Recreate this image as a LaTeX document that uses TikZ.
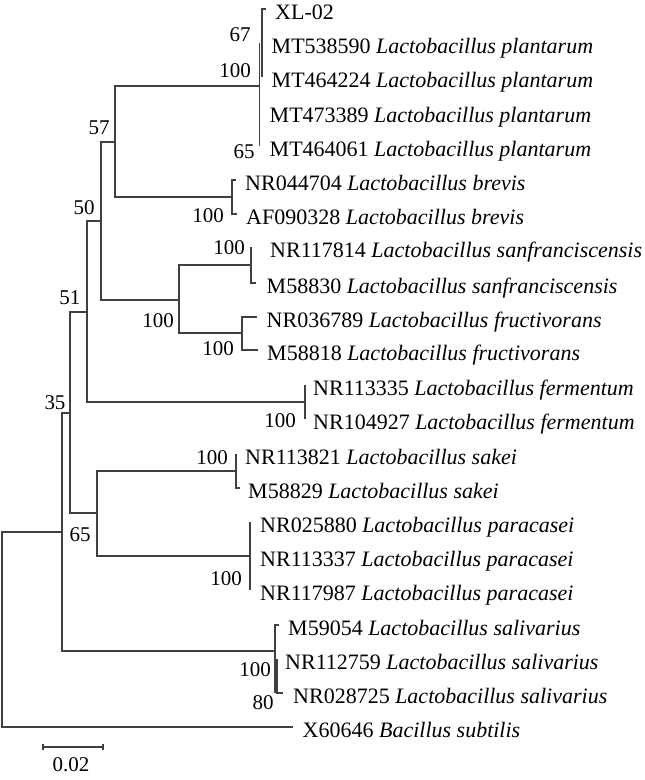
\documentclass[tikz,border=0pt]{standalone}
\usepackage{fontspec}
\setmainfont{Liberation Serif}
\usetikzlibrary{calc}
\tikzset{
	branch/.style={line width=1.3pt, color=black!75},
	taxon/.style={anchor=west, inner sep=0pt, text height=20pt, text depth=0pt, font=\fontsize{22}{24}\selectfont},
	boot/.style={inner sep=0pt, font=\fontsize{21}{23}\selectfont},
}
\def\spname#1{\textit{Lactobacillus #1}}

\begin{document}
\begin{tikzpicture}[x=1pt, y=-1pt]
			%%%%% START %%%%%
			\useasboundingbox (0, 0) rectangle (645, 780);
			
			\node[taxon] (xl02) at (275, 9) {XL-02};
			\node[taxon] (mt538590) at (271.5, 43) {MT538590 \spname{plantarum}};
			\node[taxon] (mt464224) at (271.5, 77) {MT464224 \spname{plantarum}};
			\node[taxon] (mt473389) at (269.5, 112) {MT473389 \spname{plantarum}};
			\node[taxon] (mt464061) at (269.5, 146) {MT464061 \spname{plantarum}};
			\node[taxon] (nr044704) at (245, 180) {NR044704 \spname{brevis}};
			\node[taxon] (af090328) at (246, 214) {AF090328 \spname{brevis}};
			\node[taxon] (nr117814) at (270, 247) {NR117814 \spname{sanfranciscensis}};
			\node[taxon] (m58830) at (266.5, 283) {M58830 \spname{sanfranciscensis}};
			\node[taxon] (nr036789) at (266.5, 317) {NR036789 \spname{fructivorans}};
			\node[taxon] (m58818) at (267, 350) {M58818 \spname{fructivorans}};
			\node[taxon] (nr113335) at (313, 385) {NR113335 \spname{fermentum}};
			\node[taxon] (nr104927) at (313, 419) {NR104927 \spname{fermentum}};
			\node[taxon] (nr113821) at (245, 454) {NR113821 \spname{sakei}};
			\node[taxon] (m58829) at (248, 488) {M58829 \spname{sakei}};
			\node[taxon] (nr025880) at (260, 522) {NR025880 \spname{paracasei}};
			\node[taxon] (nr113337) at (260, 556) {NR113337 \spname{paracasei}};
			\node[taxon] (nr117987) at (260, 590) {NR117987 \spname{paracasei}};
			\node[taxon] (m59054) at (288, 625) {M59054 \spname{salivarius}};
			\node[taxon] (nr112759) at (285, 659) {NR112759 \spname{salivarius}};
			\node[taxon] (nr028725) at (293, 693) {NR028725 \spname{salivarius}};
			\node[taxon] (x60646) at (302.5, 727) {X60646 \textit{Bacillus subtilis}};
			
			\coordinate (root) at (2, 630);
			\coordinate (n35) at (62, 532);
			\coordinate (n51) at (70, 413);
			\coordinate (n50) at (87, 312);
			\coordinate (n57) at (101, 221);
			\coordinate (npb) at (115, 142);
			\coordinate (nplan) at (259.5, 86);
			\coordinate (n67) at (262, 43);
			\coordinate (nbrev) at (232, 197);
			\coordinate (nsf) at (179, 300);
			\coordinate (nsanf) at (251, 265);
			\coordinate (nfruc) at (242, 333);
			\coordinate (nferm) at (305, 402);
			\coordinate (n65) at (97, 513);
			\coordinate (nsakei) at (236, 471);
			\coordinate (npara) at (250, 556);
			\coordinate (nsal) at (275, 651);
			\coordinate (n80) at (277, 676);
			
			\draw[branch] (root) |- (n35);
			\draw[branch] (root) |- ([xshift=-9.5pt]x60646.west);
			\draw[branch] (n35) |- (n51);
			\draw[branch] (n35) |- (nsal);
			\draw[branch] (n51) |- (n50);
			\draw[branch] (n51) |- (n65);
			\draw[branch] (n50) |- (n57);
			\draw[branch] (n50) |- (nferm);
			\draw[branch] (n57) |- (npb);
			\draw[branch] (n57) |- (nsf);
			\draw[branch] (npb) |- (nplan);
			\draw[branch] (npb) |- (nbrev);
			\draw[branch] (nsf) |- (nsanf);
			\draw[branch] (nsf) |- (nfruc);
			\draw[branch] (n65) |- (nsakei);
			\draw[branch] (n65) |- (npara);
			
			\draw[branch] (nplan |- mt538590.west) -- (nplan |- mt464061.west);
			\draw[branch] ([xshift=-9.5pt]xl02.west) -| (n67) -- (n67 |- mt464224.west);
			\draw[branch] ([xshift=-9pt]nr044704.west) -| (nbrev) |- ([xshift=-9.5pt]af090328.west);
			\draw[branch] (nsanf |- nr117814.west) -- (nsanf) |- ([xshift=-11pt]m58830.west);
			\draw[branch] ([xshift=-9.5pt]nr036789.west) -| (nfruc) |- ([xshift=-9.5pt]m58818.west);
			\draw[branch] (nferm |- nr113335.west) -- (nferm |- nr104927.west);
			\draw[branch] (nsakei |- nr113821.west) -- (nsakei) |- ([xshift=-8pt]m58829.west);
			\draw[branch] (npara |- nr025880.west) -- (npara |- nr117987.west);
			\draw[branch] ([xshift=-9pt]m59054.west) -| (nsal) -- (nsal |- nr028725.west);
			\draw[branch] (n80 |- nr112759.west) -- (n80) |- ([xshift=-10pt]nr028725.west);
			
			\node[boot] (b67) at (240, 35) {67};
			\node[boot] (bplan) at (235, 71) {100};
			\node[boot] (b65a) at (244, 152) {65};
			\node[boot] (b57) at (99, 128) {57};
			\node[boot] (bbrev) at (208, 216) {100};
			\node[boot] (b50) at (84, 208) {50};
			\node[boot] (bsanf) at (229, 248) {100};
			\node[boot] (b51) at (70, 298) {51};
			\node[boot] (bsf) at (158, 321) {100};
			\node[boot] (bfruc) at (218, 349) {100};
			\node[boot] (b35) at (55, 403) {35};
			\node[boot] (bferm) at (280, 421) {100};
			\node[boot] (bsakei) at (212, 458) {100};
			\node[boot] (b65b) at (80, 535) {65};
			\node[boot] (bpara) at (226, 579) {100};
			\node[boot] (bsal) at (255, 670) {100};
			\node[boot] (b80) at (263, 703) {80};
			
			\coordinate (sb1) at (43, 747);
			\coordinate (sb2) at (103, 747);
			\draw[branch] (sb1) -- (sb2);
			\draw[branch] ([yshift=-3pt]sb1) -- ([yshift=3pt]sb1);
			\draw[branch] ([yshift=-3pt]sb2) -- ([yshift=3pt]sb2);
			\node[boot] (sblabel) at (71, 765) {0.02};
			
			%%%%% END %%%%%
		\end{tikzpicture}
\end{document}
